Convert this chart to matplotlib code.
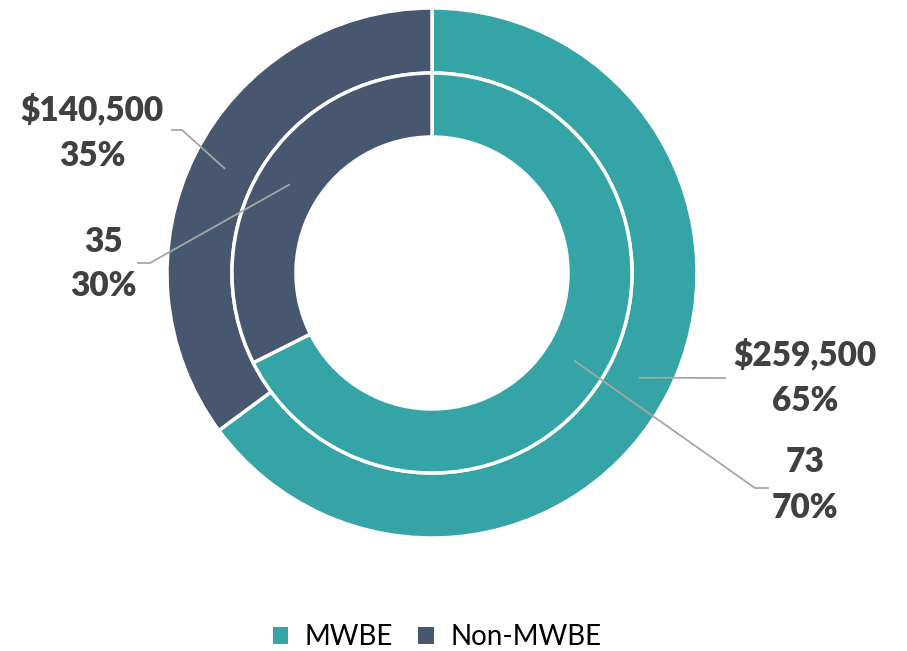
import numpy as np
import matplotlib
matplotlib.use("Agg")
import matplotlib.pyplot as plt
from matplotlib.patches import Patch

# DATA
categories = ["MWBE", "Non-MWBE"]
outer_values = [259500, 140500]      # dollars
outer_pct = [65, 35]
inner_values = [73, 35]              # counts
inner_pct = [70, 30]

colors_used = ["#35A4A6", "#46576F"]
text_color = "#404040"
line_color = "#A6A6A6"

plt.rcParams["font.family"] = ["Lato", "DejaVu Sans"]

W, H = 907, 651
fig = plt.figure(figsize=(W / 100, H / 100), dpi=100)
ax = fig.add_axes([0, 0, 1, 1])

cx, cy = 432, H - 273
r_out, w_out = 265, 65
r_in, w_in = 200, 64

ax.pie(outer_values, radius=r_out, center=(cx, cy), colors=colors_used,
       startangle=90, counterclock=False, frame=True,
       wedgeprops=dict(width=w_out, edgecolor="white", linewidth=2.5))
ax.pie(inner_values, radius=r_in, center=(cx, cy), colors=colors_used,
       startangle=90, counterclock=False, frame=True,
       wedgeprops=dict(width=w_in, edgecolor="white", linewidth=2.5))
ax.set_xlim(0, W)
ax.set_ylim(0, H)
ax.set_aspect("equal")
ax.axis("off")


def mid_point(values, idx, radius):
    total = sum(values)
    start = 90 - 360 * sum(values[:idx]) / total
    ang = np.radians(start - 180 * values[idx] / total)
    return cx + radius * np.cos(ang), cy + radius * np.sin(ang)


# LABELS: (ring values, index, text, label pos, elbow points, radius)
labels = [
    (outer_values, 0, f"${outer_values[0]:,}\n{outer_pct[0]}%", (805, H - 378),
     [(725, H - 378)], r_out - w_out / 2),
    (outer_values, 1, f"${outer_values[1]:,}\n{outer_pct[1]}%", (92, H - 133),
     [(182, H - 130), (172, H - 130)], r_out - w_out / 2),
    (inner_values, 0, f"{inner_values[0]}\n{inner_pct[0]}%", (805, H - 485),
     [(755, H - 488), (768, H - 488)], r_in - w_in / 2),
    (inner_values, 1, f"{inner_values[1]}\n{inner_pct[1]}%", (103, H - 264),
     [(150, H - 263), (138, H - 263)], r_in - w_in / 2),
]

for vals, i, txt, pos, elbow, rad in labels:
    px, py = mid_point(vals, i, rad)
    xs = [px] + [e[0] for e in elbow]
    ys = [py] + [e[1] for e in elbow]
    ax.plot(xs, ys, color=line_color, linewidth=1.3, zorder=5)
    ax.text(pos[0], pos[1], txt, ha="center", va="center", fontsize=24,
            fontweight="heavy", color=text_color, linespacing=1.5, zorder=6)

handles = [Patch(facecolor=c, label=l) for c, l in zip(colors_used, categories)]
fig.legend(handles=handles, loc="center", bbox_to_anchor=(0.482, 1 - 637 / H),
           ncol=2, frameon=False, fontsize=20, handlelength=0.55, handleheight=0.55,
           handletextpad=0.6, columnspacing=0.9, labelcolor="black")

fig.savefig("out.png", dpi=100)
